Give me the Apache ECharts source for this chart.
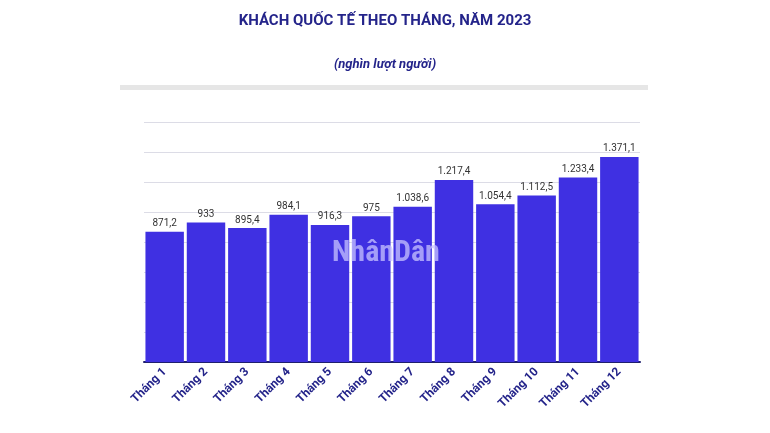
<!DOCTYPE html>
<html><head><meta charset="utf-8">
<script src="https://cdn.jsdelivr.net/npm/echarts@6/dist/echarts.min.js"></script>
<style>html,body{margin:0;background:#fff}#c{width:770px;height:433px}</style>
</head><body><div id="c"></div>
<script>
const categories = ['Tháng 1','Tháng 2','Tháng 3','Tháng 4','Tháng 5','Tháng 6','Tháng 7','Tháng 8','Tháng 9','Tháng 10','Tháng 11','Tháng 12'];
const values = [871.2, 933, 895.4, 984.1, 916.3, 975, 1038.6, 1217.4, 1054.4, 1112.5, 1233.4, 1371.1];
function fmt(v){
  let s = String(v).split('.');
  let i = s[0].replace(/\B(?=(\d{3})+(?!\d))/g,'.');
  return s[1] ? i + ',' + s[1] : i;
}
const chart = echarts.init(document.getElementById('c'));
chart.setOption({
  backgroundColor:'#fff',
  title:[
    {text:'KHÁCH QUỐC TẾ THEO THÁNG, NĂM 2023',left:'center',top:9,textStyle:{fontFamily:'Roboto',fontSize:15,fontWeight:'bold',color:'#24248a'}},
    {text:'(nghìn lượt người)',left:'center',top:53,textStyle:{fontFamily:'Roboto',fontSize:13,fontStyle:'italic',fontWeight:'bold',color:'#24248a'}}
  ],
  graphic:[
    {type:'rect',shape:{x:120,y:85,width:528,height:5},style:{fill:'#e6e6e6'},silent:true},
    {type:'text',left:332,top:238,z:100,style:{text:'NhânDân',font:'bold 30px "Roboto Condensed", "Liberation Sans Narrow", Roboto',fill:'rgba(200,195,255,0.75)'}}
  ],
  grid:{left:144,right:130,top:122.7,bottom:71},
  xAxis:{type:'category',data:categories,
    axisLine:{lineStyle:{color:'#1f1f6e',width:2}},axisTick:{show:false},
    axisLabel:{rotate:45,interval:0,fontFamily:'Roboto',fontSize:12,fontWeight:'bold',color:'#24248a',margin:8}},
  yAxis:{type:'value',min:0,max:1600,interval:200,axisLabel:{show:false},axisLine:{show:false},axisTick:{show:false},
    splitLine:{lineStyle:{color:'#dcdce6',width:1}}},
  series:[{type:'bar',data:values,barCategoryGap:'7%',
    itemStyle:{color:'#3f30e2'},
    label:{show:true,position:'top',distance:3,formatter:p=>fmt(p.value),fontFamily:'Roboto',fontSize:10,color:'#333'}}]
});
</script></body></html>
